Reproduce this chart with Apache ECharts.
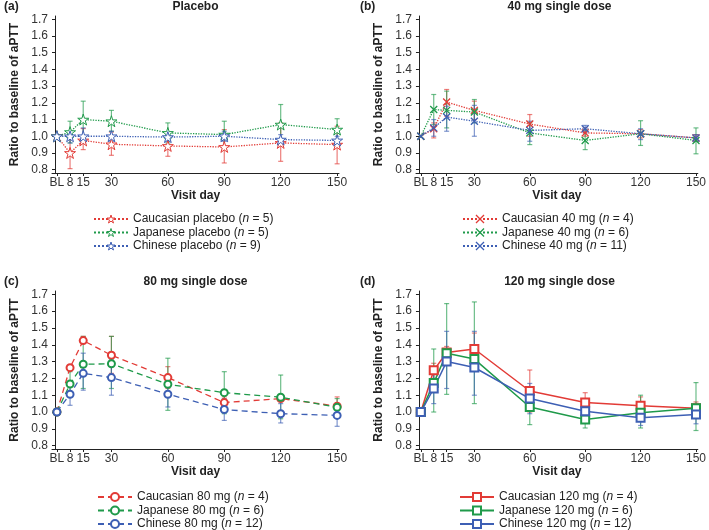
<!DOCTYPE html>
<html>
<head>
<meta charset="utf-8">
<script src="https://cdn.jsdelivr.net/npm/echarts@6/dist/echarts.min.js"></script>
<style>
  html, body { margin: 0; padding: 0; background: #fff; }
  #main { width: 709px; height: 530px; }
</style>
</head>
<body>
<div id="main"></div>
<script>
// visit days (BL plotted as day 1)
const days = [1, 8, 15, 30, 60, 90, 120, 150];
const dayLabels = ['BL', '8', '15', '30', '60', '90', '120', '150'];
const yTicks = [0.8, 0.9, 1.0, 1.1, 1.2, 1.3, 1.4, 1.5, 1.6, 1.7];

const groups = ['Caucasian', 'Japanese', 'Chinese'];
const colors = ['#e23b36', '#1f9a4a', '#3d5fb4'];

// (a) placebo: mean, lower, upper
const plaCauMean = [1.00, 0.90, 0.975, 0.952, 0.942, 0.936, 0.96, 0.95];
const plaCauLo   = [null, 0.806, 0.92, 0.886, 0.88, 0.84, 0.85, 0.835];
const plaCauHi   = [null, 0.99, 1.046, 1.025, 1.0, 1.04, 1.08, 1.06];
const plaJpnMean = [1.00, 1.025, 1.10, 1.09, 1.02, 1.01, 1.07, 1.04];
const plaJpnLo   = [null, 0.96, 1.0, 1.03, 0.96, 0.93, 0.96, 0.97];
const plaJpnHi   = [null, 1.09, 1.21, 1.155, 1.08, 1.09, 1.19, 1.105];
const plaChnMean = [1.00, 1.00, 1.00, 1.00, 0.995, 1.00, 0.98, 0.975];
const plaChnLo   = [null, 0.96, 0.96, 0.97, 0.97, 0.97, 0.95, 0.95];
const plaChnHi   = [null, 1.03, 1.05, 1.03, 1.02, 1.03, 1.01, 1.0];

// (b) 40 mg
const d40CauMean = [1.00, 1.045, 1.205, 1.155, 1.073, 1.02, 1.015, 0.99];
const d40CauLo   = [null, 0.99, 1.12, 1.10, 1.0, 1.0, 0.99, 0.97];
const d40CauHi   = [null, 1.08, 1.28, 1.21, 1.13, 1.05, 1.04, 1.01];
const d40JpnMean = [1.00, 1.16, 1.155, 1.145, 1.02, 0.975, 1.015, 0.975];
const d40JpnLo   = [null, 1.07, 1.05, 1.08, 0.95, 0.92, 0.945, 0.895];
const d40JpnHi   = [null, 1.25, 1.27, 1.22, 1.08, 1.04, 1.093, 1.05];
const d40ChnMean = [1.00, 1.05, 1.115, 1.09, 1.035, 1.045, 1.015, 0.99];
const d40ChnLo   = [null, 1.0, 1.03, 1.0, 0.97, 1.02, 0.98, 0.97];
const d40ChnHi   = [null, 1.10, 1.18, 1.185, 1.09, 1.065, 1.045, 1.01];

// (c) 80 mg
const d80CauMean = [1.00, 1.264, 1.425, 1.338, 1.205, 1.056, 1.08, 1.035];
const d80CauLo   = [null, 1.25, 1.41, 1.23, 1.14, 1.03, 1.07, 0.99];
const d80CauHi   = [null, 1.28, 1.45, 1.45, 1.27, 1.09, 1.09, 1.09];
const d80JpnMean = [1.00, 1.167, 1.284, 1.287, 1.165, 1.115, 1.088, 1.028];
const d80JpnLo   = [null, 1.11, 1.14, 1.14, 1.01, 0.99, 0.96, 0.97];
const d80JpnHi   = [null, 1.24, 1.45, 1.45, 1.32, 1.24, 1.22, 1.08];
const d80ChnMean = [1.00, 1.106, 1.23, 1.205, 1.106, 1.015, 0.99, 0.98];
const d80ChnLo   = [null, 1.04, 1.13, 1.10, 1.03, 0.95, 0.935, 0.915];
const d80ChnHi   = [null, 1.17, 1.35, 1.31, 1.18, 1.08, 1.05, 1.045];

// (d) 120 mg
const d120CauMean = [1.00, 1.248, 1.354, 1.375, 1.125, 1.056, 1.038, 1.022];
const d120CauLo   = [null, 1.20, 1.30, 1.29, 1.0, 1.0, 0.99, 0.98];
const d120CauHi   = [null, 1.29, 1.39, 1.47, 1.25, 1.115, 1.09, 1.06];
const d120JpnMean = [1.00, 1.172, 1.35, 1.315, 1.03, 0.955, 0.996, 1.022];
const d120JpnLo   = [null, 1.0, 1.105, 1.05, 0.925, 0.905, 0.905, 0.89];
const d120JpnHi   = [null, 1.375, 1.645, 1.655, 1.13, 1.0, 1.1, 1.175];
const d120ChnMean = [1.00, 1.14, 1.30, 1.265, 1.08, 1.005, 0.966, 0.985];
const d120ChnLo   = [null, 1.05, 1.14, 1.10, 0.99, 0.95, 0.92, 0.93];
const d120ChnHi   = [null, 1.25, 1.48, 1.48, 1.17, 1.06, 1.02, 1.04];

const starPath = 'path://M50,0L61.8,35.4L100,35.4L69.1,57.3L80.9,92.7L50,70.8L19.1,92.7L30.9,57.3L0,35.4L38.2,35.4Z';

const panels = [
  { tag: '(a)', title: 'Placebo', label: 'placebo', n: [5, 5, 9], lineType: 'dotted',
    symbol: starPath, symbolSize: 11, hollow: true,
    mean: [plaCauMean, plaJpnMean, plaChnMean], lo: [plaCauLo, plaJpnLo, plaChnLo], hi: [plaCauHi, plaJpnHi, plaChnHi] },
  { tag: '(b)', title: '40 mg single dose', label: '40 mg', n: [4, 6, 11], lineType: 'dotted',
    symbol: 'path://M0,0L10,10M10,0L0,10', symbolSize: 7, hollow: false,
    mean: [d40CauMean, d40JpnMean, d40ChnMean], lo: [d40CauLo, d40JpnLo, d40ChnLo], hi: [d40CauHi, d40JpnHi, d40ChnHi] },
  { tag: '(c)', title: '80 mg single dose', label: '80 mg', n: [4, 6, 12], lineType: [6, 4],
    symbol: 'emptyCircle', symbolSize: 7, hollow: false,
    mean: [d80CauMean, d80JpnMean, d80ChnMean], lo: [d80CauLo, d80JpnLo, d80ChnLo], hi: [d80CauHi, d80JpnHi, d80ChnHi] },
  { tag: '(d)', title: '120 mg single dose', label: '120 mg', n: [4, 6, 12], lineType: 'solid',
    symbol: 'emptyRect', symbolSize: 8, hollow: false,
    mean: [d120CauMean, d120JpnMean, d120ChnMean], lo: [d120CauLo, d120JpnLo, d120ChnLo], hi: [d120CauHi, d120JpnHi, d120ChnHi] }
];

// grid positions
const gridPos = [
  { left: 52, top: 16, width: 287, height: 157 },
  { left: 416, top: 16, width: 287, height: 157 },
  { left: 52, top: 291, width: 287, height: 158 },
  { left: 416, top: 291, width: 287, height: 158 }
];
const legendPos = [
  { left: 93, top: 213 },
  { left: 462, top: 213 },
  { left: 97, top: 491 },
  { left: 459, top: 491 }
];

const font = 'Liberation Sans, Arial, sans-serif';

let grids = [], xAxes = [], yAxes = [], series = [], legends = [], graphics = [];

panels.forEach(function (p, k) {
  const g = gridPos[k];
  grids.push({ left: g.left, top: g.top, width: g.width, height: g.height });
  xAxes.push({
    type: 'value', gridIndex: k, min: -1.6, max: 151,
    name: 'Visit day', nameLocation: 'middle', nameGap: 16,
    nameTextStyle: { fontFamily: font, fontWeight: 'bold', fontSize: 12, color: '#222' },
    axisLine: { show: true, onZero: false, lineStyle: { color: '#222', width: 1 } },
    axisTick: { show: true, length: 3, customValues: days, lineStyle: { color: '#222' } },
    axisLabel: { customValues: days, margin: 4, fontFamily: font, fontSize: 12, color: '#333',
      formatter: function (v) { const i = days.indexOf(v); return i >= 0 ? dayLabels[i] : ''; } },
    splitLine: { show: false }
  });
  yAxes.push({
    type: 'value', gridIndex: k, min: 0.78, max: 1.72,
    name: 'Ratio to baseline of aPTT', nameLocation: 'middle', nameGap: 31,
    nameTextStyle: { fontFamily: font, fontWeight: 'bold', fontSize: 12, color: '#222' },
    axisLine: { show: true, lineStyle: { color: '#222', width: 1 } },
    axisTick: { show: true, length: 3, customValues: yTicks, lineStyle: { color: '#222' } },
    axisLabel: { customValues: yTicks, margin: 4, fontFamily: font, fontSize: 12, color: '#333',
      formatter: function (v) { return v.toFixed(1); } },
    splitLine: { show: false }
  });

  const names = [];
  const legendItems = [];
  groups.forEach(function (grp, j) {
    const c = colors[j];
    const name = grp + ' ' + p.label;
    names.push(name);
    const style = p.hollow ? { color: '#fff', borderColor: c, borderWidth: 1 }
                           : { color: c, borderColor: c, borderWidth: 1.3 };
    legendItems.push({ name: name, itemStyle: style });
    const errData = [];
    days.forEach(function (d, i) {
      if (p.lo[j][i] != null) errData.push([d, p.lo[j][i], p.hi[j][i]]);
    });
    series.push({
      type: 'custom', xAxisIndex: k, yAxisIndex: k, silent: true, z: 2,
      encode: { x: 0, y: [1, 2] },
      data: errData,
      renderItem: function (params, api) {
        const a = api.coord([api.value(0), api.value(1)]);
        const b = api.coord([api.value(0), api.value(2)]);
        const w = 2.5;
        const st = { stroke: c, lineWidth: 1.2, opacity: 0.65 };
        return { type: 'group', children: [
          { type: 'line', shape: { x1: a[0], y1: a[1], x2: b[0], y2: b[1] }, style: st },
          { type: 'line', shape: { x1: a[0] - w, y1: a[1], x2: a[0] + w, y2: a[1] }, style: st },
          { type: 'line', shape: { x1: b[0] - w, y1: b[1], x2: b[0] + w, y2: b[1] }, style: st }
        ] };
      }
    });
    series.push({
      name: name, type: 'line', xAxisIndex: k, yAxisIndex: k, z: 3,
      data: days.map(function (d, i) { return [d, p.mean[j][i]]; }),
      symbol: p.symbol, symbolSize: p.symbolSize, showAllSymbol: true,
      lineStyle: { color: c, width: k === 3 ? 1.5 : 1.3, type: p.lineType },
      itemStyle: style,
      emphasis: { disabled: true },
      animation: false
    });
  });

  legends.push({
    data: legendItems, orient: 'vertical', left: legendPos[k].left, top: legendPos[k].top,
    height: 80, width: 260,
    itemWidth: 34, itemHeight: 10, itemGap: 1.5, padding: 0, selectedMode: false,
    textStyle: { fontFamily: font, fontSize: 12, color: '#222',
      rich: { i: { fontFamily: font, fontSize: 12, fontStyle: 'italic', color: '#222' } } },
    formatter: function (nm) {
      const j = names.indexOf(nm);
      return nm + ' ({i|n} = ' + p.n[j] + ')';
    }
  });

  graphics.push({
    type: 'text', left: k % 2 === 0 ? 4 : 360, top: g.top - 15,
    style: { text: p.tag, font: 'bold 12px ' + font, fill: '#222' }
  });
  graphics.push({
    type: 'text', x: g.left + g.width / 2, y: g.top - 9,
    style: { text: p.title, font: 'bold 12px ' + font, fill: '#222', align: 'center', verticalAlign: 'middle' }
  });
});

const chart = echarts.init(document.getElementById('main'), null, { renderer: 'canvas' });
chart.setOption({
  animation: false,
  backgroundColor: '#fff',
  grid: grids,
  xAxis: xAxes,
  yAxis: yAxes,
  legend: legends,
  graphic: graphics,
  series: series
});
</script>
</body>
</html>
